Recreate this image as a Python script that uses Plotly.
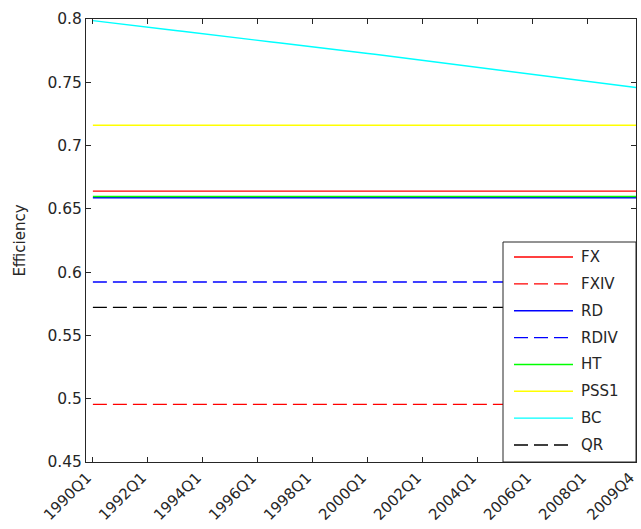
import plotly.graph_objects as go

# quarter index positions 1..80 = 1990Q1 .. 2009Q4
quarters = [f"{y}Q{q}" for y in range(1990, 2010) for q in range(1, 5)]
x_index = list(range(1, len(quarters) + 1))

tick_vals = [1, 9, 17, 25, 33, 41, 49, 57, 65, 73, 80]
tick_text = ["1990Q1", "1992Q1", "1994Q1", "1996Q1", "1998Q1", "2000Q1",
             "2002Q1", "2004Q1", "2006Q1", "2008Q1", "2009Q4"]

fx = 0.664
fxiv = 0.4955
rd = 0.6588
rdiv = 0.5922
ht = 0.6598
pss1 = 0.7160
qr = 0.5722
bc = [0.7987, 0.7980, 0.7974, 0.7968, 0.7961, 0.7955, 0.7948, 0.7942, 0.7935, 0.7929,
      0.7922, 0.7916, 0.7909, 0.7903, 0.7896, 0.7890, 0.7883, 0.7877, 0.7870, 0.7864,
      0.7857, 0.7851, 0.7844, 0.7838, 0.7831, 0.7825, 0.7818, 0.7812, 0.7805, 0.7799,
      0.7792, 0.7786, 0.7779, 0.7773, 0.7766, 0.7760, 0.7753, 0.7747, 0.7740, 0.7734,
      0.7727, 0.7721, 0.7714, 0.7708, 0.7701, 0.7695, 0.7688, 0.7682, 0.7675, 0.7669,
      0.7662, 0.7655, 0.7648, 0.7641, 0.7634, 0.7627, 0.7620, 0.7613, 0.7606, 0.7599,
      0.7592, 0.7585, 0.7578, 0.7571, 0.7564, 0.7557, 0.7550, 0.7543, 0.7536, 0.7529,
      0.7522, 0.7515, 0.7508, 0.7501, 0.7494, 0.7487, 0.7480, 0.7473, 0.7466, 0.7459]

n = len(x_index)
DASH = "14px,6px"
series = [
    ("FX", [fx] * n, "#FF0000", "solid"),
    ("FXIV", [fxiv] * n, "#FF0000", DASH),
    ("RD", [rd] * n, "#0000FF", "solid"),
    ("RDIV", [rdiv] * n, "#0000FF", DASH),
    ("HT", [ht] * n, "#00FF00", "solid"),
    ("PSS1", [pss1] * n, "#FFFF00", "solid"),
    ("BC", bc, "#00FFFF", "solid"),
    ("QR", [qr] * n, "#000000", DASH),
]

font_family = "DejaVu Sans, Arial, sans-serif"
text_color = "#262626"

fig = go.Figure()
for name, ys, color, dash in series:
    fig.add_trace(go.Scatter(
        x=x_index, y=ys, name=name, mode="lines", showlegend=False,
        line=dict(color=color, width=1.4, dash=dash),
    ))

# ---- legend box drawn in axis-domain coordinates (lower right, inside axes) ----
W, H = 550.0, 443.0          # plot area size in px
box_left = 1 - 133 / W
box_top = 220 / H
shapes = [dict(type="rect", xref="x domain", yref="y domain",
               x0=box_left, x1=1, y0=0, y1=box_top,
               fillcolor="white", line=dict(color=text_color, width=1), layer="above")]
annotations = []
item_gap = 26.85
for i, (name, ys, color, dash) in enumerate(series):
    py = 17 + (len(series) - 1 - i) * item_gap   # px above bottom
    yy = py / H
    shapes.append(dict(type="line", xref="x domain", yref="y domain",
                       x0=1 - 122 / W, x1=1 - 63 / W, y0=yy, y1=yy,
                       line=dict(color=color, width=1.4, dash=dash), layer="above"))
    annotations.append(dict(xref="x domain", yref="y domain", x=1 - 57 / W, y=yy,
                            text=name, showarrow=False, xanchor="left", yanchor="middle",
                            font=dict(size=15, color=text_color, family=font_family)))

axis_common = dict(
    showline=True, linecolor=text_color, linewidth=1, mirror="ticks",
    ticks="inside", ticklen=5, tickcolor=text_color, showgrid=False,
    zeroline=False, automargin=False,
)

fig.update_layout(
    width=641, height=529,
    margin=dict(l=86, r=5, t=19, b=67),
    paper_bgcolor="white", plot_bgcolor="white",
    font=dict(family=font_family, color=text_color),
    showlegend=False,
    shapes=shapes,
    annotations=annotations,
    xaxis=dict(range=[0, 80], tickvals=tick_vals, ticktext=tick_text,
               tickangle=-45, ticklabeloverflow="allow", ticklabelshift=-6,
               tickfont=dict(size=15, color=text_color, family=font_family),
               **axis_common),
    yaxis=dict(range=[0.45, 0.8], tickvals=[0.45, 0.5, 0.55, 0.6, 0.65, 0.7, 0.75, 0.8],
               ticktext=["0.45", "0.5", "0.55", "0.6", "0.65", "0.7", "0.75", "0.8"],
               tickfont=dict(size=15.5, color=text_color, family=font_family),
               title=dict(text="Efficiency", font=dict(size=15, color=text_color, family=font_family),
                          standoff=18),
               **axis_common),
)

fig.write_html("out.html")
